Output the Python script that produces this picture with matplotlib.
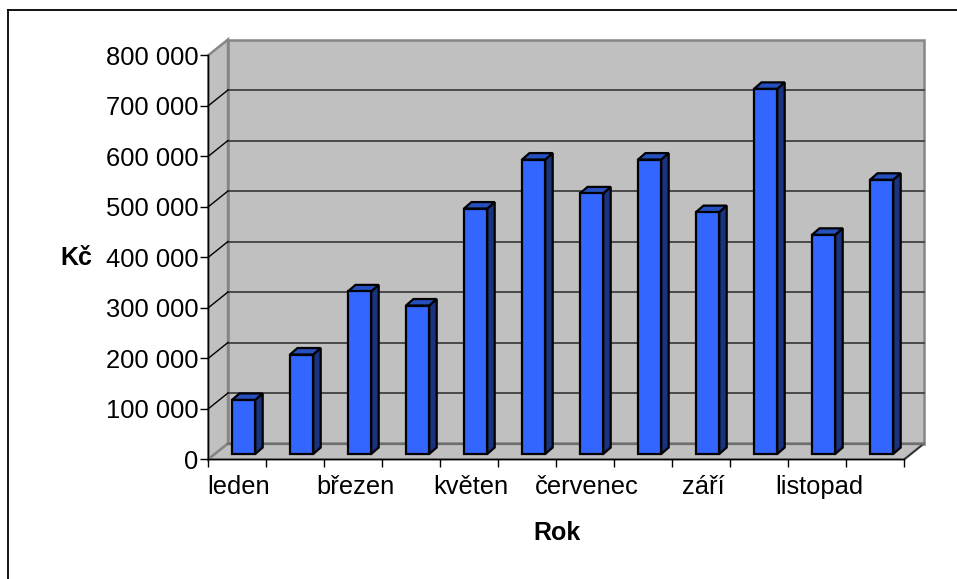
import matplotlib
matplotlib.use('Agg')
import matplotlib.pyplot as plt
from matplotlib.lines import Line2D
from matplotlib.patches import Polygon

months = ['leden', 'únor', 'březen', 'duben', 'květen', 'červen',
          'červenec', 'srpen', 'září', 'říjen', 'listopad', 'prosinec']
sales = [107000, 197000, 322000, 294000, 486000, 583000,
         516000, 583000, 479000, 723000, 434000, 543000]
y_ticks = [0, 100000, 200000, 300000, 400000, 500000, 600000, 700000, 800000]

W, H = 957, 579
plt.rcParams['font.family'] = ['Liberation Sans', 'DejaVu Sans']

fig = plt.figure(figsize=(W / 100, H / 100), dpi=100)
# chart frame, only top and left are inside the picture
fig.add_artist(Line2D([8 / W, 8 / W], [0, 1 - 10 / H], color='black', lw=1.3))
fig.add_artist(Line2D([8 / W, 1], [1 - 10 / H, 1 - 10 / H], color='black', lw=1.3))

# front plane of the fake 3D box
left, right, top, bottom = 208.3, 904.3, 55.3, 459.3
ax = fig.add_axes([left / W, 1 - bottom / H, (right - left) / W, (bottom - top) / H])
ax.set_xlim(0, 12)
ax.set_ylim(0, 800000)
ax.patch.set_visible(False)
for s in ['top', 'right']:
    ax.spines[s].set_visible(False)
for s in ['left', 'bottom']:
    ax.spines[s].set_linewidth(1)
    ax.spines[s].set_color('black')

# pixel -> data units
px = 12 / (right - left)
py = 800000 / (bottom - top)


def box_pt(x, y, depth_x, depth_y):
    return (x + depth_x * px, y + depth_y * py)


wall_dx, wall_dy = 19.7, 15.8
grey = '#c0c0c0'
edge = '#868686'

# back wall and side wall and floor
ax.add_patch(Polygon([box_pt(0, 0, wall_dx, wall_dy), box_pt(12, 0, wall_dx, wall_dy),
                      box_pt(12, 800000, wall_dx, wall_dy), box_pt(0, 800000, wall_dx, wall_dy)],
                     closed=True, fc=grey, ec=edge, lw=1.8, clip_on=False, zorder=1))
ax.add_patch(Polygon([(0, 0), box_pt(0, 0, wall_dx, wall_dy),
                      box_pt(0, 800000, wall_dx, wall_dy), (0, 800000)],
                     closed=True, fc=grey, ec=edge, lw=1.8, clip_on=False, zorder=1))
ax.add_patch(Polygon([(0, 0), (12, 0), box_pt(12, 0, wall_dx, wall_dy), box_pt(0, 0, wall_dx, wall_dy)],
                     closed=True, fc=grey, ec=edge, lw=1.8, clip_on=False, zorder=1))
ax.plot([12, 12 + wall_dx * px], [0, wall_dy * py], color='#222222', lw=1, clip_on=False, zorder=1.5)

# gridlines
for v in y_ticks[1:-1]:
    ax.plot([wall_dx * px, 12 + wall_dx * px], [v + wall_dy * py] * 2, color='#404040', lw=1.3,
            clip_on=False, zorder=2)
for v in y_ticks[1:-1]:
    ax.plot([0, wall_dx * px], [v, v + wall_dy * py], color='black', lw=1, clip_on=False, zorder=2)
ax.plot([wall_dx * px, 12 + wall_dx * px], [wall_dy * py] * 2, color='#6e6e6e', lw=1.6,
        clip_on=False, zorder=2)

# bars
bar_off = 23.7
bar_w = 23.2
bar_dx, bar_dy = 7.5, 6.5
base = 5.3
front = '#3366ff'
side = '#1a3380'
top_c = '#2650c0'
for i, v in enumerate(sales):
    x0 = i + bar_off * px
    x1 = x0 + bar_w * px
    y0 = base * py
    y1 = v + y0
    ax.add_patch(Polygon([(x1, y0), box_pt(x1, y0, bar_dx, bar_dy), box_pt(x1, y1, bar_dx, bar_dy), (x1, y1)],
                         closed=True, fc=side, ec='black', lw=1.6, clip_on=False, zorder=3, joinstyle='miter'))
    ax.add_patch(Polygon([(x0, y1), (x1, y1), box_pt(x1, y1, bar_dx, bar_dy), box_pt(x0, y1, bar_dx, bar_dy)],
                         closed=True, fc=top_c, ec='black', lw=1.6, clip_on=False, zorder=3, joinstyle='miter'))
    ax.add_patch(Polygon([(x0, y0), (x1, y0), (x1, y1), (x0, y1)],
                         closed=True, fc=front, ec='black', lw=1.6, clip_on=False, zorder=4, joinstyle='miter'))

ax.set_yticks(y_ticks)
ax.set_yticklabels([f'{v:,}'.replace(',', ' ') for v in y_ticks], fontsize=18.4)
ax.set_xticks(range(13))
ax.set_xticklabels([])
ax.tick_params(axis='y', length=6, width=1, pad=1, color='black')
ax.tick_params(axis='x', length=6, width=1, direction='out', color='black')

# only every second month gets a label
for i, name in enumerate(months):
    if i % 2 == 0:
        ax.text(i + 0.53, -16 * py, name, ha='center', va='top', fontsize=18.4, clip_on=False)

fig.text(557 / W, 1 - 533 / H, 'Rok', ha='center', va='center', fontsize=18, fontweight='bold')
fig.text(76.5 / W, 1 - 258 / H, 'Kč', ha='center', va='center', fontsize=18, fontweight='bold')

fig.savefig('out.png', dpi=100, facecolor='white')
